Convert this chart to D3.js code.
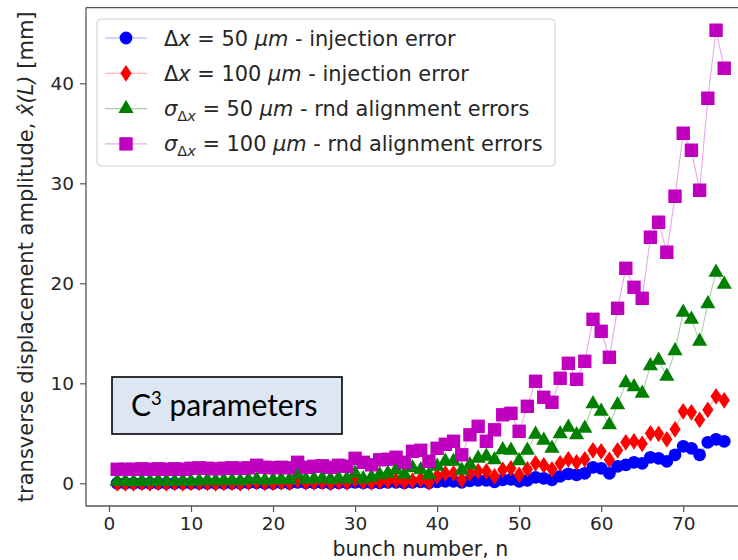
<!DOCTYPE html>
<html>
<head>
<meta charset="utf-8">
<script src="https://cdn.jsdelivr.net/npm/d3@7"></script>
<style>
  html, body { margin: 0; padding: 0; background: #fff; }
  svg { display: block; }
  text { font-family: "DejaVu Sans", sans-serif; fill: #262626; }
</style>
</head>
<body>
<svg id="chart" width="738" height="560"></svg>
<script>
// Bunch index along the train
const bunchNumbers = [1,2,3,4,5,6,7,8,9,10,11,12,13,14,15,16,17,18,19,20,21,22,23,24,25,
  26,27,28,29,30,31,32,33,34,35,36,37,38,39,40,41,42,43,44,45,46,47,48,49,50,
  51,52,53,54,55,56,57,58,59,60,61,62,63,64,65,66,67,68,69,70,71,72,73,74,75];

// Transverse displacement amplitude at the end of the linac [mm]
const injection50 = [0,0,0,0,0,0,0,0,0,0,0,0,0,0,0,0,0.05,0.05,0,0,0.05,0,0.1,0.05,0.05,
  0.05,0,0.05,0.05,0.1,0.05,0.05,0.05,0.1,0.1,0.05,0.1,0.15,0.05,0.15,0.2,0.2,0.1,0.25,0.3,0.3,0.15,0.35,0.4,0.2,
  0.3,0.6,0.5,0.35,0.7,0.95,0.85,1.0,1.6,1.5,1.0,1.7,1.85,2.1,2.0,2.6,2.5,2.2,2.85,3.7,3.5,2.85,4.1,4.4,4.2];

const injection100 = [0,0,0,0.05,0,0.05,0,0.05,0,0.05,0.05,0.05,0,0.05,0.05,0,0.1,0.15,0.05,0.05,0.1,0.05,0.3,0.1,0.1,
  0.15,0.05,0.15,0.1,0.35,0.15,0.1,0.2,0.25,0.3,0.15,0.25,0.4,0.1,0.7,1.0,1.0,0.35,1.0,1.2,1.2,0.7,1.35,1.5,0.85,
  1.4,2.0,1.8,1.4,2.0,2.4,2.1,2.4,3.3,3.2,2.35,3.3,4.1,4.2,3.95,5.0,4.95,4.4,5.4,7.2,7.1,6.35,7.35,8.7,8.3];

const alignment50 = [0.2,0.2,0.15,0.2,0.2,0.25,0.2,0.2,0.25,0.2,0.25,0.3,0.25,0.3,0.3,0.25,0.35,0.4,0.3,0.35,0.4,0.35,0.85,0.4,0.45,
  0.5,0.4,0.5,0.45,1.0,0.45,0.6,0.85,1.0,1.35,0.9,1.55,1.35,0.85,1.7,2.2,2.2,1.3,1.85,2.5,2.7,2.35,3.35,3.3,2.25,
  3.3,4.9,4.3,3.5,4.95,5.6,4.85,5.5,7.95,7.2,5.85,7.85,10.05,9.65,9.0,11.75,12.3,10.7,13.25,17.1,16.4,14.2,17.95,21.1,19.9];

const alignment100 = [1.4,1.4,1.4,1.45,1.4,1.45,1.4,1.45,1.4,1.5,1.55,1.5,1.45,1.5,1.55,1.5,1.55,1.8,1.6,1.55,1.6,1.55,2.1,1.6,1.7,
  1.75,1.6,1.8,1.7,2.5,2.1,1.85,2.35,2.4,2.6,2.1,3.2,3.3,2.2,3.5,3.9,4.2,2.85,4.85,5.7,4.2,5.35,6.85,7.0,5.2,
  7.7,10.2,8.6,8.1,10.5,12.0,10.4,12.2,16.4,15.2,12.6,17.5,21.5,19.6,18.5,24.6,26.1,23.1,28.7,35.0,33.3,29.3,38.5,45.3,41.5];

const xTicks = [0, 10, 20, 30, 40, 50, 60, 70];
const yTicks = [0, 10, 20, 30, 40];

const svg = d3.select("#chart");

const plot = { left: 86, top: 7.6, bottom: 506, right: 754.6 };

const x = d3.scaleLinear().domain([-2.8, 78.7]).range([plot.left, plot.right]);
const y = d3.scaleLinear().domain([-2.27, 47.57]).range([plot.bottom, plot.top]);

// Marker symbols for each series
const circle = d3.symbol().type(d3.symbolCircle).size(Math.PI * 6.4 * 6.4);
const square = d3.symbol().type(d3.symbolSquare).size(13.4 * 13.4);
const triangle = d3.symbol().type(d3.symbolTriangle).size(100);
const thinDiamond = "M0,-8.4L5.6,0L0,8.4L-5.6,0Z";

const series = [
  { values: injection50, color: "#0000ff", path: circle() },
  { values: injection100, color: "#ff0000", path: thinDiamond },
  { values: alignment50, color: "#008000", path: triangle() },
  { values: alignment100, color: "#bf00bf", path: square() }
];

// Axes frame
const spine = "#555";
svg.append("line").attr("x1", plot.left).attr("x2", plot.left)
  .attr("y1", plot.top).attr("y2", plot.bottom)
  .attr("stroke", spine).attr("stroke-width", 1.3);
svg.append("line").attr("x1", plot.left).attr("x2", plot.right)
  .attr("y1", plot.top).attr("y2", plot.top)
  .attr("stroke", spine).attr("stroke-width", 1.3);
svg.append("line").attr("x1", plot.left).attr("x2", plot.right)
  .attr("y1", plot.bottom).attr("y2", plot.bottom)
  .attr("stroke", spine).attr("stroke-width", 1.3);

const xAxis = svg.append("g")
  .attr("transform", `translate(0,${plot.bottom})`)
  .call(d3.axisBottom(x).tickValues(xTicks).tickSize(6).tickPadding(5).tickFormat(d3.format("d")));
const yAxis = svg.append("g")
  .attr("transform", `translate(${plot.left},0)`)
  .call(d3.axisLeft(y).tickValues(yTicks).tickSize(6).tickPadding(6).tickFormat(d3.format("d")));
[xAxis, yAxis].forEach(g => {
  g.select(".domain").remove();
  g.selectAll(".tick line").attr("stroke", spine).attr("stroke-width", 1.2);
  g.selectAll(".tick text").style("font-size", "18.5px").attr("fill", "#262626")
    .style("font-family", "DejaVu Sans, sans-serif");
});

// Axis titles
svg.append("text")
  .attr("x", (plot.left + plot.right) / 2).attr("y", 556)
  .attr("text-anchor", "middle").style("font-size", "20.5px")
  .text("bunch number, n");

const yTitle = svg.append("text")
  .attr("transform", `translate(33,${(plot.top + plot.bottom) / 2}) rotate(-90)`)
  .attr("text-anchor", "middle").style("font-size", "21px");
yTitle.append("tspan").text("transverse displacement amplitude, ");
yTitle.append("tspan").style("font-style", "italic").text("x\u0302(L)");
yTitle.append("tspan").text(" [mm]");

// Data lines and markers
svg.append("clipPath").attr("id", "plotClip")
  .append("rect").attr("x", plot.left).attr("y", plot.top)
  .attr("width", plot.right - plot.left).attr("height", plot.bottom - plot.top);

const dataLayer = svg.append("g").attr("clip-path", "url(#plotClip)");
const line = d3.line().x((d, i) => x(bunchNumbers[i])).y(d => y(d));

series.forEach(s => {
  dataLayer.append("path")
    .attr("d", line(s.values))
    .attr("fill", "none")
    .attr("stroke", s.color)
    .attr("stroke-opacity", 0.35)
    .attr("stroke-width", 1.1);
  dataLayer.append("g").selectAll("path")
    .data(s.values)
    .join("path")
    .attr("transform", (d, i) => `translate(${x(bunchNumbers[i])},${y(d)})`)
    .attr("d", s.path)
    .attr("fill", s.color);
});

// Legend
const legend = svg.append("g");
legend.append("rect")
  .attr("x", 97).attr("y", 19).attr("width", 458).attr("height", 147)
  .attr("rx", 4).attr("fill", "#fff").attr("fill-opacity", 0.85)
  .attr("stroke", "#d0d0d0").attr("stroke-width", 1);

const legendRows = [
  { s: series[0], parts: [["Δ", ""], ["x", "i"], [" = 50 ", ""], ["μm", "i"], [" - injection error", ""]] },
  { s: series[1], parts: [["Δ", ""], ["x", "i"], [" = 100 ", ""], ["μm", "i"], [" - injection error", ""]] },
  { s: series[2], parts: [["σ", "i"], ["Δ", "sub"], ["x", "subi"], [" = 50 ", ""], ["μm", "i"], [" - rnd alignment errors", ""]] },
  { s: series[3], parts: [["σ", "i"], ["Δ", "sub"], ["x", "subi"], [" = 100 ", ""], ["μm", "i"], [" - rnd alignment errors", ""]] }
];

legendRows.forEach((row, k) => {
  const cy = 38 + k * 35.3;
  legend.append("line").attr("x1", 105).attr("x2", 147).attr("y1", cy).attr("y2", cy)
    .attr("stroke", row.s.color).attr("stroke-opacity", 0.35).attr("stroke-width", 1.1);
  legend.append("path").attr("transform", `translate(126,${cy})`)
    .attr("d", row.s.path).attr("fill", row.s.color);
  const t = legend.append("text").attr("x", 164).attr("y", cy + 7.5)
    .style("font-size", "20.9px").attr("xml:space", "preserve");
  let lowered = false;
  row.parts.forEach(([str, kind]) => {
    const ts = t.append("tspan").text(str);
    const isSub = kind === "sub" || kind === "subi";
    if (kind === "i" || kind === "subi") ts.style("font-style", "italic");
    if (isSub) {
      ts.style("font-size", "14.5px");
      if (!lowered) { ts.attr("dy", 5); lowered = true; }
    } else if (lowered) {
      ts.attr("dy", -5);
      lowered = false;
    }
  });
});

// Parameter-set annotation box
const note = svg.append("g");
note.append("rect").attr("x", 112).attr("y", 377).attr("width", 230).attr("height", 57)
  .attr("fill", "#dce7f3").attr("stroke", "#000").attr("stroke-width", 1.6);
const noteText = note.append("text").attr("x", 131).attr("y", 416)
  .style("font-family", "Lato, 'Open Sans', sans-serif").style("font-size", "30px")
  .attr("fill", "#000");
noteText.append("tspan").text("C").attr("fill", "#000");
noteText.append("tspan").text("3").attr("dy", -11).style("font-size", "18.5px").attr("fill", "#000");
noteText.append("tspan").text(" parameters").attr("dy", 11).attr("fill", "#000");
</script>
</body>
</html>
